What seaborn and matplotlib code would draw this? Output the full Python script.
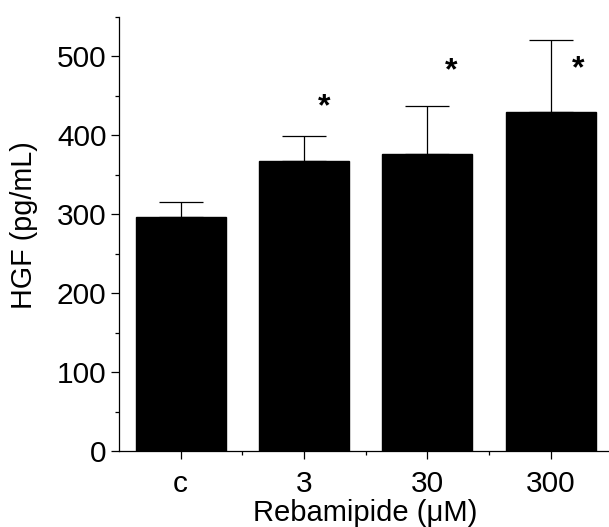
import numpy as np
import pandas as pd
import seaborn as sns
import matplotlib
matplotlib.use("Agg")
import matplotlib.pyplot as plt
from matplotlib.ticker import MultipleLocator, FixedLocator

# values
groups = ["c", "3", "30", "300"]
hgf_mean = [297, 367, 376, 430]
hgf_err = [19, 32, 61, 91]
star_groups = [1, 2, 3]
star_offset_x = [0.16, 0.19, 0.22]
star_y = [436, 481, 484]

sns.set_style("ticks")
plt.rcParams['font.family'] = ['Liberation Sans', 'DejaVu Sans']
plt.rcParams['text.color'] = 'black'
plt.rcParams['axes.labelcolor'] = 'black'
plt.rcParams['xtick.color'] = 'black'
plt.rcParams['ytick.color'] = 'black'

fig = plt.figure(figsize=(6.09, 5.27), dpi=100)
ax = fig.add_axes([0.1954, 0.1442, 0.81, 0.824])

df = pd.DataFrame({"group": groups, "hgf": hgf_mean})
sns.barplot(data=df, x="group", y="hgf", color="black", width=0.73,
            saturation=1, ax=ax, errorbar=None, edgecolor="black")

x = np.arange(len(groups))
ax.errorbar(x, hgf_mean, yerr=[np.zeros(len(groups)), hgf_err], fmt="none",
            ecolor="black", elinewidth=0.9, capsize=15.5, capthick=0.9)

for g, dx, sy in zip(star_groups, star_offset_x, star_y):
    ax.text(g + dx, sy, "*", ha="center", va="center", fontsize=23,
            fontweight="bold")

ax.set_xlim(-0.5, 3.5)
ax.set_ylim(0, 550)
ax.yaxis.set_major_locator(FixedLocator([0, 100, 200, 300, 400, 500]))
ax.yaxis.set_minor_locator(MultipleLocator(50))
ax.xaxis.set_minor_locator(FixedLocator([0.5, 1.5, 2.5]))

ax.tick_params(axis="both", which="major", length=6, width=0.9,
               labelsize=21.5, direction="out")
ax.tick_params(axis="x", which="major", pad=7.5)
ax.tick_params(axis="y", which="major", pad=3)
ax.tick_params(axis="both", which="minor", length=3, width=0.9,
               direction="out")

ax.set_xlabel("Rebamipide (\u03bcM)", fontsize=21, labelpad=1)
ax.set_ylabel("HGF (pg/mL)", fontsize=20.7)
ax.yaxis.set_label_coords(-0.164, 0.52)

sns.despine(ax=ax)
for s in ["left", "bottom"]:
    ax.spines[s].set_linewidth(0.9)
    ax.spines[s].set_color("black")

fig.savefig("out.png", dpi=100)
